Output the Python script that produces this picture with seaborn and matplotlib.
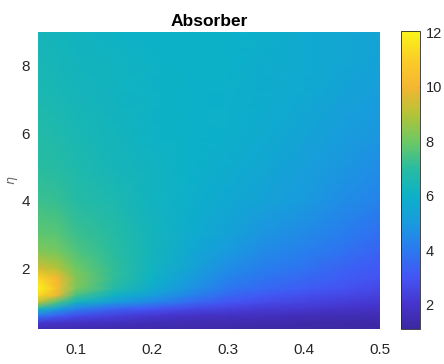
import numpy as np
import matplotlib
matplotlib.use("Agg")
import matplotlib.pyplot as plt
from matplotlib.colors import LinearSegmentedColormap
import seaborn as sns

# ---- data ----
x_values = [0.05, 0.075, 0.1, 0.15, 0.2, 0.25, 0.3, 0.35, 0.4, 0.45, 0.5]
eta_values = [0.2, 0.4, 0.6, 0.8, 1.0, 1.2, 1.4, 1.7, 2.0, 2.5, 3.0, 4.0, 5.0, 6.0, 7.0, 8.0, 9.0]
absorber_values = [
    [1.4, 1.4, 1.4, 1.35, 1.3, 1.3, 1.25, 1.2, 1.2, 1.15, 1.15],
    [2.2, 2.0, 1.9, 1.75, 1.6, 1.5, 1.45, 1.4, 1.35, 1.3, 1.3],
    [4.0, 3.3, 2.8, 2.4, 2.1, 1.9, 1.8, 1.7, 1.6, 1.55, 1.5],
    [6.5, 5.2, 4.3, 3.4, 3.0, 2.6, 2.4, 2.2, 2.1, 1.95, 1.85],
    [9.2, 7.6, 6.2, 5.1, 4.4, 3.6, 3.0, 2.7, 2.5, 2.3, 2.1],
    [11.2, 9.8, 7.4, 6.1, 5.2, 4.3, 3.5, 3.1, 2.8, 2.6, 2.4],
    [12.0, 10.3, 8.2, 6.8, 5.8, 4.8, 3.9, 3.5, 3.2, 2.9, 2.6],
    [11.2, 10.0, 8.3, 7.1, 6.1, 5.1, 4.3, 3.8, 3.5, 3.2, 2.9],
    [9.4, 9.0, 8.0, 7.1, 6.2, 5.4, 4.6, 4.1, 3.8, 3.4, 3.1],
    [8.3, 8.1, 7.6, 7.0, 6.3, 5.6, 5.0, 4.5, 4.2, 3.8, 3.4],
    [7.8, 7.7, 7.3, 6.9, 6.3, 5.8, 5.3, 4.8, 4.5, 4.1, 3.7],
    [7.3, 7.2, 6.9, 6.6, 6.2, 5.9, 5.6, 5.3, 5.0, 4.6, 4.3],
    [7.0, 6.9, 6.7, 6.4, 6.2, 6.0, 5.8, 5.5, 5.2, 4.9, 4.6],
    [6.8, 6.7, 6.5, 6.3, 6.1, 6.0, 5.9, 5.7, 5.4, 5.1, 4.9],
    [6.6, 6.5, 6.4, 6.2, 6.1, 6.0, 5.9, 5.8, 5.6, 5.3, 5.1],
    [6.5, 6.4, 6.3, 6.2, 6.1, 6.0, 6.0, 5.8, 5.7, 5.5, 5.3],
    [6.4, 6.3, 6.2, 6.1, 6.0, 6.0, 6.0, 5.9, 5.7, 5.5, 5.4],
]
x_ticks = [0.1, 0.2, 0.3, 0.4, 0.5]
x_tick_labels = ["0.1", "0.2", "0.3", "0.4", "0.5"]
y_ticks = [2, 4, 6, 8]
cbar_ticks = [2, 4, 6, 8, 10, 12]
title_text = "Absorber"
ylabel_text = r"$\eta$"
color_min, color_max = 1.1, 12.05

# ---- parula-like colormap (colours) ----
cbar_levels = [1.1, 2, 3, 4, 5, 6, 7, 8, 9, 10, 11, 12.05]
cbar_colors = [
    (60, 40, 160), (70, 52, 205), (68, 85, 245), (42, 122, 240),
    (25, 155, 222), (12, 177, 200), (40, 188, 160), (110, 200, 100),
    (180, 195, 55), (245, 182, 50), (250, 205, 40), (250, 245, 25),
]
anchors = [((lv - color_min) / (color_max - color_min), tuple(c / 255 for c in col))
           for lv, col in zip(cbar_levels, cbar_colors)]
parula = LinearSegmentedColormap.from_list("parula_ref", anchors, N=256)

sns.set_theme(style="white")
plt.rcParams["font.family"] = ["Liberation Sans", "DejaVu Sans"]
plt.rcParams["mathtext.fontset"] = "dejavusans"

text_color = (0.15, 0.15, 0.15)

fig = plt.figure(figsize=(4.44, 3.64), dpi=100)
ax = fig.add_axes([38 / 444, 1 - 329 / 364, 342 / 444, 297 / 364])
cax = fig.add_axes([401 / 444, 1 - 329 / 364, 19 / 444, 298 / 364])

X, Y = np.meshgrid(np.array(x_values), np.array(eta_values))
Z = np.array(absorber_values)
mesh = ax.pcolormesh(X, Y, Z, shading="gouraud", cmap=parula,
                     vmin=color_min, vmax=color_max, rasterized=True)

ax.set_xlim(0.05, 0.5)
ax.set_ylim(0.2, 9.0)
ax.set_xticks(x_ticks)
ax.set_xticklabels(x_tick_labels)
ax.set_yticks(y_ticks)
for s in ax.spines.values():
    s.set_visible(False)
ax.tick_params(axis="both", which="both", length=0, labelsize=11,
               labelcolor=text_color)
ax.tick_params(axis="x", pad=10)
ax.tick_params(axis="y", pad=6)
ax.set_title(title_text, fontsize=12.5, fontweight="bold", color="black", pad=4)
ax.set_ylabel(ylabel_text, fontsize=9, color=(0.4, 0.4, 0.4), labelpad=1)

cb = fig.colorbar(mesh, cax=cax)
cb.set_ticks(cbar_ticks)
cb.outline.set_edgecolor(text_color)
cb.outline.set_linewidth(0.6)
cax.tick_params(direction="in", length=3, width=0.6, color=text_color,
                labelsize=10.5, labelcolor=text_color, pad=4)

fig.savefig("out.png", dpi=100)
